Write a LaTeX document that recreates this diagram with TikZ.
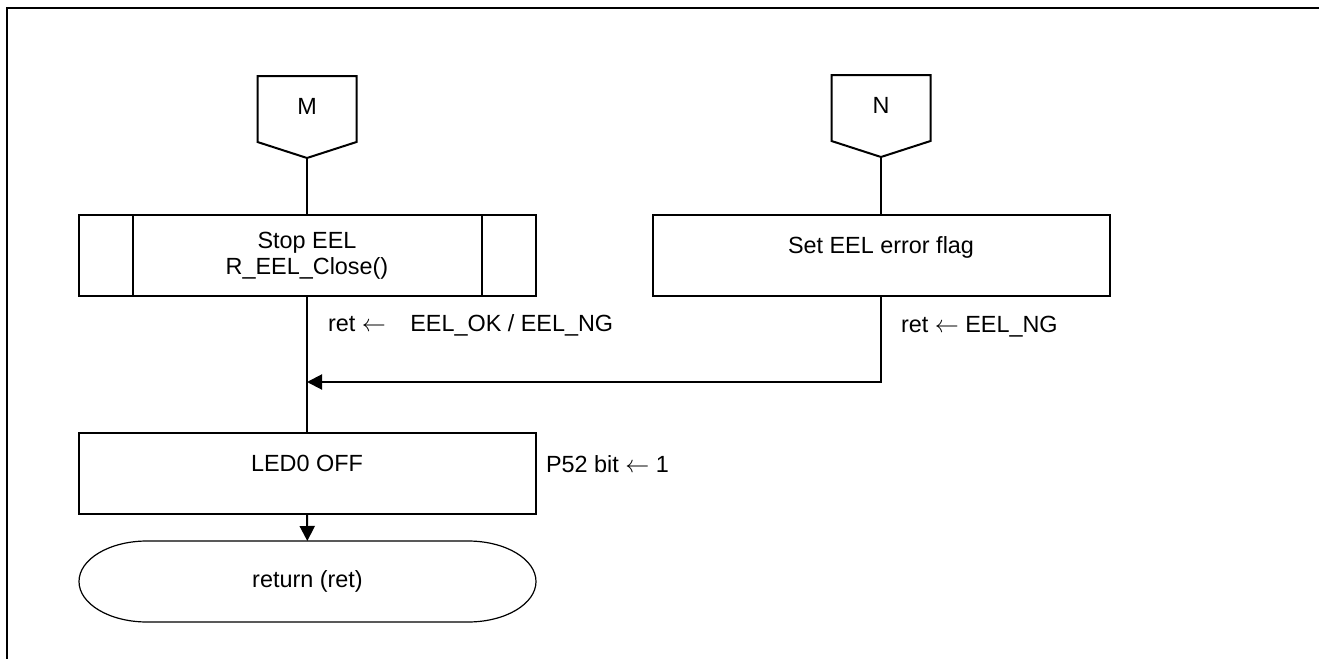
\documentclass[tikz,border=0pt]{standalone}
\usepackage{fontspec}
\setmainfont{Liberation Sans}
\usetikzlibrary{arrows.meta}

\begin{document}
\begin{tikzpicture}[x=0.5pt,y=-0.5pt,line width=1pt,
  font=\fontsize{11.7}{13}\selectfont,
  procbox/.style={draw,minimum width=228.5pt,minimum height=40.5pt,inner sep=0pt,align=center},
  oneline/.style={procbox,text depth=10pt},
  offpage/.style={minimum width=49.5pt,minimum height=33pt,inner sep=0pt,outer sep=0pt,text depth=3pt},
  note/.style={anchor=base west,inner sep=0pt},
  flow/.style={-{Triangle[length=7.5pt,width=7.5pt]}}]
  \useasboundingbox (0,0) rectangle (1319,659);
  \draw[line width=1.2pt] (7,659) -- (7,8) -- (1319,8);

  % off-page connectors
  \node[offpage] (M) at (307,109) {M};
  \node[offpage] (N) at (881,108) {N};
  \draw (M.north west) -- (M.north east) -- (M.south east) -- ([yshift=-8pt]M.south)
    -- (M.south west) -- cycle;
  \draw (N.north west) -- (N.north east) -- (N.south east) -- ([yshift=-8pt]N.south)
    -- (N.south west) -- cycle;
  \coordinate (Mtip) at ([yshift=-8pt]M.south);
  \coordinate (Ntip) at ([yshift=-8pt]N.south);

  % boxes
  \node[procbox] (stop) at (307,255.5) {Stop EEL\\R\_EEL\_Close()};
  \draw ([xshift=27.5pt]stop.north west) -- ([xshift=27.5pt]stop.south west);
  \draw ([xshift=-27.5pt]stop.north east) -- ([xshift=-27.5pt]stop.south east);
  \node[oneline] (seterr) at (881,255.5) {Set EEL error flag};
  \node[oneline] (led) at (307,473.5) {LED0 OFF};
  \node[minimum width=228.5pt,minimum height=40.5pt,inner sep=0pt,outer sep=0pt] (ret)
    at (307.5,581.5) {return (ret)};
  \draw[line width=0.6pt] ([xshift=34pt]ret.north west) -- ([xshift=-34pt]ret.north east)
    arc[start angle=90,end angle=-90,x radius=34pt,y radius=20.25pt]
    -- ([xshift=34pt]ret.south west)
    arc[start angle=270,end angle=90,x radius=34pt,y radius=20.25pt] -- cycle;

  % notes
  \node[note] (okng) at (327,331) {ret $\leftarrow$\hspace{9pt} EEL\_OK / EEL\_NG};
  \node[note] (ng) at (900,332) {ret $\leftarrow$ EEL\_NG};
  \node[note] (p52) at (545,472) {P52 bit $\leftarrow$ 1};

  % flow lines
  \coordinate (join) at (307,382);
  \draw (Mtip) -- (stop);
  \draw (stop) -- (led);
  \draw[flow] (led) -- (ret);
  \draw (Ntip) -- (seterr);
  \draw[flow] (seterr) |- (join);
\end{tikzpicture}
\end{document}
